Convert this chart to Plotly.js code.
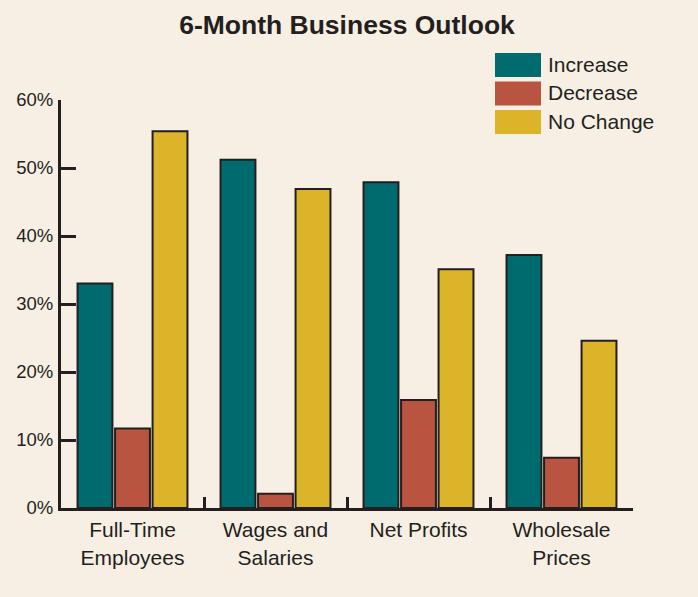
<!DOCTYPE html>
<html><head><meta charset="utf-8">
<script src="https://cdn.plot.ly/plotly-3.0.1.min.js"></script>
<style>html,body{margin:0;padding:0;background:#F7EFE3;}#chart{width:698px;height:597px;}</style>
</head><body><div id="chart"></div>
<script>
const categories = ["Full-Time<br>Employees", "Wages and<br>Salaries", "Net Profits", "Wholesale<br>Prices"];
const seriesNames = ["Increase", "Decrease", "No Change"];
const increase = [33.0, 51.2, 47.9, 37.2];
const decrease = [11.7, 2.1, 15.9, 7.4];
const noChange = [55.4, 46.9, 35.1, 24.6];
const tickVals = [0, 10, 20, 30, 40, 50, 60];
const tickText = ["0%", "10%", "20%", "30%", "40%", "50%", "60%"];

const colors = ["#006B6E", "#B85440", "#DCB42A"];
const ink = "#231F20";
const font = "'Liberation Sans', Arial, sans-serif";
const values = [increase, decrease, noChange];

const data = values.map((v, i) => ({
  type: "bar", x: categories, y: v, name: seriesNames[i],
  marker: {color: colors[i], line: {color: ink, width: 2}},
  showlegend: false, hoverinfo: "skip"
}));

const shapes = [], annotations = [];
const legTop = 53, legH = 24, legStep = 28.5;
seriesNames.forEach((n, i) => {
  const y0 = legTop + i * legStep;
  shapes.push({type: "rect", xref: "paper", yref: "paper", layer: "above",
    x0: (495 - 61) / 572, x1: (541 - 61) / 572,
    y0: 1 - (y0 - 100) / 408, y1: 1 - (y0 + legH - 100) / 408,
    fillcolor: colors[i], line: {width: 0}});
  annotations.push({xref: "paper", yref: "paper", x: (546 - 61) / 572, y: 1 - (y0 + legH / 2 - 1 - 100) / 408,
    xanchor: "left", yanchor: "middle", text: n, showarrow: false,
    font: {family: font, size: 21, color: ink}});
});

const layout = {
  width: 698, height: 597,
  paper_bgcolor: "#F7EFE3", plot_bgcolor: "#F7EFE3",
  margin: {l: 61, r: 65, t: 100, b: 89},
  title: {text: "<b>6-Month Business Outlook</b>", x: 0.5, xref: "paper", xanchor: "center",
    y: 1 - 25 / 597, yanchor: "middle", font: {family: font, size: 26.5, color: ink}},
  barmode: "group", bargap: 0.213, bargroupgap: 0.07,
  xaxis: {type: "category", showline: true, linewidth: 3, linecolor: ink,
    ticks: "inside", tickson: "boundaries", ticklen: 11, tickwidth: 3, tickcolor: ink,
    tickfont: {family: font, size: 21, color: ink}, showgrid: false, zeroline: false,
    ticklabelstandoff: 1},
  yaxis: {range: [0, 60], tickvals: tickVals, ticktext: tickText, showline: true, linewidth: 3,
    linecolor: ink, ticks: "inside", ticklen: 15, tickwidth: 3, tickcolor: ink,
    tickfont: {family: font, size: 18.5, color: ink}, showgrid: false, zeroline: false,
    ticklabelstandoff: 1},
  shapes: shapes, annotations: annotations
};
Plotly.newPlot("chart", data, layout, {displayModeBar: false, staticPlot: true});
</script></body></html>
